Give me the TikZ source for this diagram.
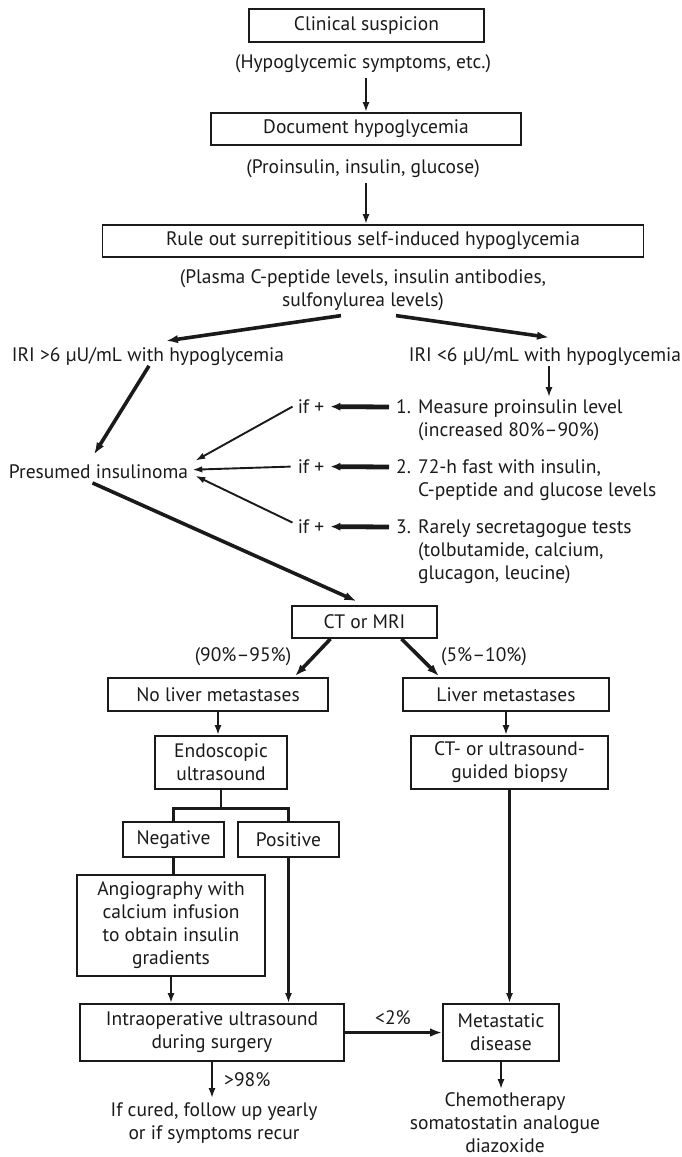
\documentclass[tikz,border=0pt]{standalone}
\usepackage{fontspec}
\setmainfont{PT Sans}
\usetikzlibrary{arrows.meta,calc}
\definecolor{ink}{HTML}{1A1A1A}
\begin{document}
\begin{tikzpicture}[x=1pt,y=-1pt,
  every node/.style={font=\fontsize{19.5}{23}\selectfont, inner sep=0pt, text=ink},
  box/.style={draw=ink, line width=1.7pt, align=center},
  arr/.style={draw=ink, -{Latex[length=10pt,width=7pt]}, line width=2.7pt},
  bigarr/.style={draw=ink, -{Latex[length=12pt,width=8.5pt]}, line width=3.6pt},
  ifarr/.style={draw=ink, -{Latex[length=10pt,width=8.5pt]}, line width=4.8pt},
  thinarr/.style={draw=ink, -{Latex[length=10pt,width=6.5pt]}, line width=1.9pt},
  link/.style={draw=ink, line width=2.8pt}
]
\useasboundingbox (0,0) rectangle (682,1157);

% ---- upper column: diagnosis ----
\node[box, minimum width=235pt, minimum height=33pt] (clin) at (366.5,25.5) {Clinical suspicion};
\node[anchor=base] (hyp) at (363,68.5) {(Hypoglycemic symptoms, etc.)};
\node[box, minimum width=310pt, minimum height=32pt] (doc) at (366,129) {Document hypoglycemia};
\node[anchor=base] (pro) at (363,173.5) {(Proinsulin, insulin, glucose)};
\node[box, minimum width=541pt, minimum height=32pt] (rule) at (373,241) {Rule out surrepititious self-induced hypoglycemia};
\node[anchor=base] (plasma) at (363,283.5) {\begin{tabular}[t]{@{}c@{}}(Plasma C-peptide levels, insulin antibodies,\\sulfonylurea levels)\end{tabular}};

\node[anchor=base] (iri1) at (148,361.5) {IRI >6 µU/mL with hypoglycemia};
\node[anchor=base] (iri2) at (545,361.5) {IRI <6 µU/mL with hypoglycemia};

% ---- confirmatory tests ----
\node[anchor=base west] (item1) at (396,413.5) {\begin{tabular}[t]{@{}l@{}l@{}}\makebox[22pt][l]{1.}&Measure proinsulin level\\&(increased 80\%–90\%)\end{tabular}};
\node[anchor=base west] (item2) at (396,473.5) {\begin{tabular}[t]{@{}l@{}l@{}}\makebox[22pt][l]{2.}&72-h fast with insulin,\\&C-peptide and glucose levels\end{tabular}};
\node[anchor=base west] (item3) at (396,533.5) {\begin{tabular}[t]{@{}l@{}l@{}}\makebox[22pt][l]{3.}&Rarely secretagogue tests\\&(tolbutamide, calcium,\\&glucagon, leucine)\end{tabular}};
\node[anchor=base] (if1) at (311,413.5) {if +};
\node[anchor=base] (if2) at (311,473.5) {if +};
\node[anchor=base] (if3) at (311,533.5) {if +};
\node[anchor=base] (pres) at (98.5,478.5) {Presumed insulinoma};

% ---- localisation ----
\node[box, minimum width=145pt, minimum height=32pt] (ct) at (364.5,622) {CT or MRI};
\node[anchor=base] (p9095) at (243,661.5) {(90\%–95\%)};
\node[anchor=base] (p510) at (484,661.5) {(5\%–10\%)};
\node[box, minimum width=220pt, minimum height=33pt] (noliv) at (218,694.5) {No liver metastases};
\node[box, minimum width=206pt, minimum height=33pt] (liv) at (506,694.5) {Liver metastases};
\node[box, minimum width=132pt, minimum height=53pt] (endo) at (221,762.5) {Endoscopic\\ultrasound};
\node[box, minimum width=197pt, minimum height=53pt] (biop) at (509.5,762.5) {CT- or ultrasound-\\guided biopsy};
\node[box, minimum width=101pt, minimum height=35pt] (neg) at (173.5,839.5) {Negative};
\node[box, minimum width=101pt, minimum height=35pt] (pos) at (288.5,839.5) {Positive};
\node[box, minimum width=188pt, minimum height=101pt] (angio) at (171,925.5) {Angiography with\\calcium infusion\\to obtain insulin\\gradients};
\node[box, minimum width=264pt, minimum height=57pt] (intra) at (212,1032.5) {Intraoperative ultrasound\\during surgery};
\node[box, minimum width=116pt, minimum height=57pt] (meta) at (501,1032.5) {Metastatic\\disease};
\node[anchor=base] (lt2) at (393,1024.5) {<2\%};
\node[anchor=base west] (gt98) at (224,1086.5) {>98\%};
\node[anchor=base] (cured) at (214,1116.5) {\begin{tabular}[t]{@{}c@{}}If cured, follow up yearly\\or if symptoms recur\end{tabular}};
\node[anchor=base] (chemo) at (505,1106.5) {\begin{tabular}[t]{@{}c@{}}Chemotherapy\\somatostatin analogue\\diazoxide\end{tabular}};

% ---- connectors ----
\draw[arr, shorten <=5pt] (hyp.south -| doc.north) -- (doc.north);
\draw[arr, shorten <=5pt] (pro.south -| doc.south) -- (rule.north -| doc.south);
\draw[bigarr] ($(plasma.south)+(-22,2)$) -- ($(iri1.north)+(18,-6.5)$);
\draw[bigarr] ($(plasma.south)+(33,2)$) -- ($(iri2.north)+(4,-10)$);
\draw[bigarr] ($(iri1.south)+(1,0)$) -- ($(pres.north)+(-4.5,-10)$);
\coordinate (iri2x) at ($(iri2.south)+(4,0)$);
\draw[arr] (iri2x) -- (iri2x |- item1.north);

\draw[ifarr] ($(item1.base west)+(-7,-6.5)$) -- ($(if1.east)+(6,0)$);
\draw[ifarr] ($(item2.base west)+(-7,-6.5)$) -- ($(if2.east)+(6,0)$);
\draw[ifarr] ($(item3.base west)+(-7,-6.5)$) -- ($(if3.east)+(6,0)$);
\draw[thinarr] ($(if1.west)+(-5,0)$) -- ($(pres.east)+(7,-11)$);
\draw[thinarr] ($(if2.west)+(-7,0)$) -- ($(pres.east)+(4,-2)$);
\draw[thinarr] ($(if3.west)+(-5,-4)$) -- ($(pres.east)+(7,4)$);

\draw[bigarr] ($(pres.south)+(-6,4)$) -- ($(ct.north)+(-8,-4)$);
\draw[bigarr] ($(ct.south)+(-34,0)$) -- ($(noliv.north)+(77,-1)$);
\draw[bigarr] ($(ct.south)+(37,0)$) -- ($(liv.north)+(-67,-1)$);
\draw[arr] (noliv.south) -- (noliv.south |- endo.north);
\draw[arr] (liv.south) -- (liv.south |- biop.north);

\coordinate (split) at ($(endo.south)+(0,19)$);
\draw[link] (endo.south) -- (split);
\draw[link] (neg.north) |- (split) -| (pos.north);
\draw[link] (neg.south) -- (neg.south |- angio.north);
\draw[arr] (angio.south) -- (angio.south |- intra.north);
\draw[arr] (pos.south) -- (pos.south |- intra.north);
\draw[arr] (biop.south) -- (biop.south |- meta.north);
\draw[bigarr] (intra.east) -- (meta.west);
\draw[arr] (intra.south) -- ($(intra.south |- cured.north)+(0,-2)$);
\draw[arr] (meta.south) -- ($(meta.south |- chemo.north)+(0,-1)$);
\end{tikzpicture}
\end{document}
